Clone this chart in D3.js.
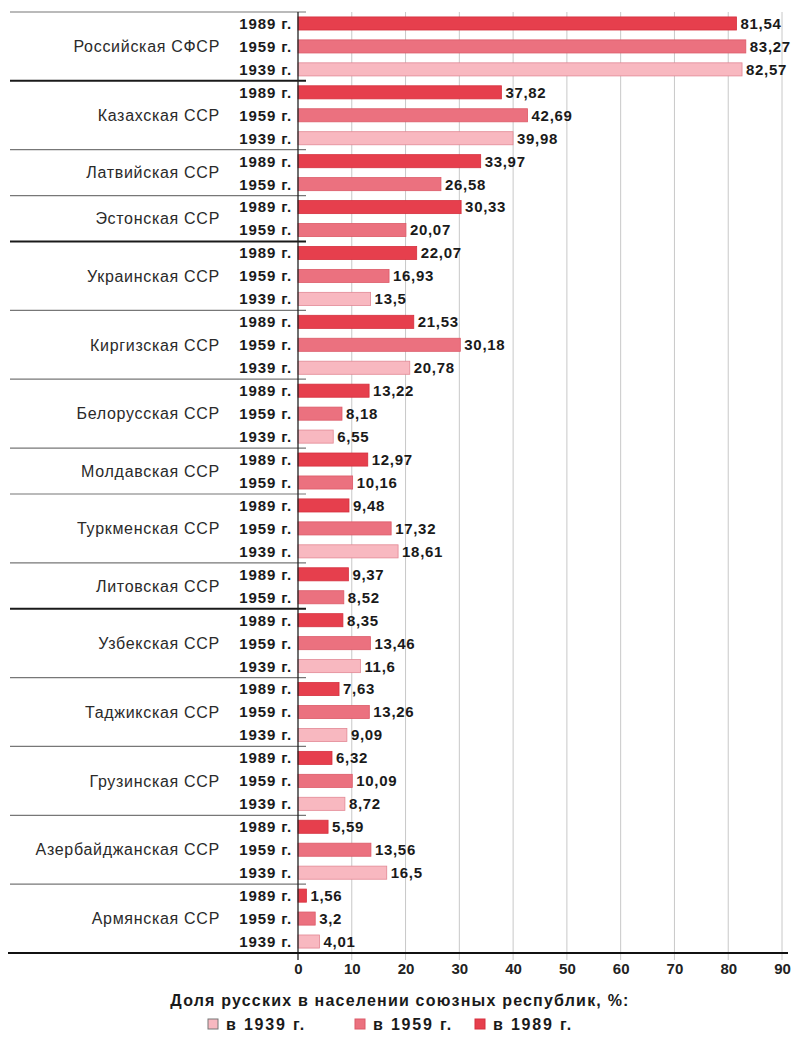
<!DOCTYPE html>
<html><head><meta charset="utf-8">
<script src="https://cdn.jsdelivr.net/npm/d3@7"></script>
<style>
html,body{margin:0;padding:0;background:#fff;}
svg{display:block;}
text{font-family:"Liberation Sans",Arial,sans-serif;fill:#1a1a1a;}
</style></head><body>
<svg id="c" width="796" height="1039"></svg>
<script>
const republics = ["Российская СФСР","Казахская ССР","Латвийская ССР","Эстонская ССР","Украинская ССР","Киргизская ССР","Белорусская ССР","Молдавская ССР","Туркменская ССР","Литовская ССР","Узбекская ССР","Таджикская ССР","Грузинская ССР","Азербайджанская ССР","Армянская ССР"];
const years = ["1989 г.","1959 г.","1939 г."];
const v1989 = [81.54,37.82,33.97,30.33,22.07,21.53,13.22,12.97,9.48,9.37,8.35,7.63,6.32,5.59,1.56];
const v1959 = [83.27,42.69,26.58,20.07,16.93,30.18,8.18,10.16,17.32,8.52,13.46,13.26,10.09,13.56,3.2];
const v1939 = [82.57,39.98,null,null,13.5,20.78,6.55,null,18.61,null,11.6,9.09,8.72,16.5,4.01];
const thickAfter = ["Российская СФСР","Эстонская ССР","Литовская ССР"];
const xTicks = [0,10,20,30,40,50,60,70,80,90];
const axisTitle = "Доля русских в населении союзных республик, %:";
const legendLabels = ["в 1939 г.","в 1959 г.","в 1989 г."];

const fills = {"1989 г.":"#e63f4d","1959 г.":"#eb717f","1939 г.":"#f8b8c0"};
const strokes = {"1989 г.":"#d5303e","1959 г.":"#dc5a68","1939 г.":"#e28894"};

(function(){
const rows = [];
const groups = [];
republics.forEach((r,i)=>{
  const vals = [v1989[i],v1959[i],v1939[i]];
  const g = {name:r,rows:[]};
  vals.forEach((v,j)=>{
    if(v!==null){ const row={key:r+"|"+years[j],rep:r,year:years[j],value:v}; rows.push(row); g.rows.push(row);}
  });
  groups.push(g);
});

const yTop=12, yBot=953, x0=298, x1=782;
const y = d3.scaleBand().domain(rows.map(d=>d.key)).range([yTop,yBot]).paddingInner(0.43).paddingOuter(0.215);
const x = d3.scaleLinear().domain([0,90]).range([x0,x1]);
const step = y.step();

const svg = d3.select("#c");

svg.append("g").selectAll("line").data(xTicks.slice(1)).join("line")
  .attr("x1",d=>x(d)).attr("x2",d=>x(d)).attr("y1",yTop).attr("y2",yBot+7)
  .attr("stroke","#c8c8c8").attr("stroke-width",1);

svg.append("g").selectAll("rect").data(rows).join("rect")
  .attr("x",x(0)).attr("y",d=>y(d.key)).attr("width",d=>x(d.value)-x(0)).attr("height",y.bandwidth())
  .attr("fill",d=>fills[d.year]).attr("stroke",d=>strokes[d.year]).attr("stroke-width",0.8);

svg.append("g").selectAll("text").data(rows).join("text")
  .attr("x",d=>x(d.value)+4).attr("y",d=>y(d.key)+y.bandwidth()/2).attr("dy","0.36em")
  .attr("font-size",15).attr("font-weight","bold").attr("letter-spacing",0.7)
  .text(d=>String(d.value).replace(".",","));

svg.append("g").selectAll("text").data(rows).join("text")
  .attr("x",292).attr("y",d=>y(d.key)+y.bandwidth()/2).attr("dy","0.36em")
  .attr("text-anchor","end").attr("font-size",15).attr("font-weight","bold").attr("letter-spacing",0.9)
  .text(d=>d.year);

let cum=0;
const seps=[{y:yTop,thick:false}];
groups.forEach((g,i)=>{
  const first=y(g.rows[0].key), last=y(g.rows[g.rows.length-1].key)+y.bandwidth();
  g.cy=(first+last)/2;
  cum+=g.rows.length;
  if(i<groups.length-1) seps.push({y:yTop+cum*step,thick:thickAfter.includes(g.name)});
});
svg.append("g").selectAll("text").data(groups).join("text")
  .attr("x",220).attr("y",d=>d.cy).attr("dy","0.36em").attr("text-anchor","end")
  .attr("font-size",16).attr("letter-spacing",0.7).style("fill","#2a2a2a")
  .text(d=>d.name);
svg.append("g").selectAll("line").data(seps).join("line")
  .attr("x1",10).attr("x2",306).attr("y1",d=>d.y).attr("y2",d=>d.y)
  .attr("stroke",d=>d.thick?"#1a1a1a":"#777").attr("stroke-width",d=>d.thick?2:1.2);

svg.append("line").attr("x1",x0).attr("x2",x0).attr("y1",yTop).attr("y2",yBot+7)
  .attr("stroke","#222").attr("stroke-width",1.3);
svg.append("line").attr("x1",8).attr("x2",788).attr("y1",yBot).attr("y2",yBot)
  .attr("stroke","#111").attr("stroke-width",2.2);

const ax = svg.append("g").attr("transform",`translate(0,${yBot+10})`)
  .call(d3.axisBottom(x).tickValues(xTicks).tickSize(0).tickPadding(0).tickFormat(d3.format("d")));
ax.select(".domain").remove();
ax.selectAll("text").attr("font-size",15).attr("font-weight","bold").style("fill","#222")
  .style("font-family",'"Liberation Sans",Arial,sans-serif');

svg.append("text").attr("x",400).attr("y",1000).attr("dy","0.36em").attr("text-anchor","middle")
  .attr("font-size",16).attr("font-weight","bold").attr("letter-spacing",1.2).text(axisTitle);

const legX=[208,355,475];
const legKeys=["1939 г.","1959 г.","1989 г."];
const leg=svg.append("g").selectAll("g").data(legendLabels).join("g")
  .attr("transform",(d,i)=>`translate(${legX[i]},1024)`);
leg.append("rect").attr("x",0).attr("y",-5).attr("width",10).attr("height",10)
  .attr("fill",(d,i)=>fills[legKeys[i]]).attr("stroke",(d,i)=>i===0?"#777":strokes[legKeys[i]]).attr("stroke-width",1);
leg.append("text").attr("x",18).attr("y",0).attr("dy","0.36em").attr("font-size",16).attr("font-weight","bold")
  .attr("letter-spacing",1.8).text(d=>d);
})();
</script>
</body></html>
